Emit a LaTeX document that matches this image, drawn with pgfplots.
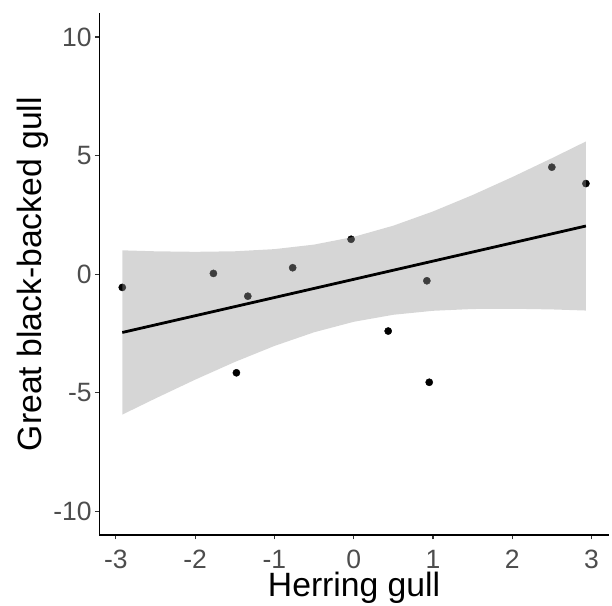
\documentclass[border=0pt]{standalone}
\usepackage{pgfplots}
\pgfplotsset{compat=1.18}
\usepackage{fontspec}
\setmainfont{Liberation Sans}
\definecolor{ticklab}{HTML}{4D4D4D}
\definecolor{tickcol}{HTML}{333333}
\definecolor{bandcol}{HTML}{999999}
\begin{document}
\begin{tikzpicture}
\begin{axis}[
  scale only axis,
  width=509.6pt, height=521.7pt,
  xmin=-3.21, xmax=3.22, ymin=-11, ymax=11,
  axis lines=left,
  axis line style={-, line width=1.1pt, black},
  xtick={-3,-2,-1,0,1,2,3},
  ytick={-10,-5,0,5,10},
  tick align=outside,
  major tick length=4.5pt,
  every tick/.style={tickcol, line width=1.1pt},
  /pgf/number format/assume math mode=true,
  tick label style={font=\fontsize{26.5}{26.5}\selectfont, text=ticklab},
  xticklabel style={anchor=base, inner sep=0pt, yshift=-29pt},
  yticklabel style={anchor=east, inner sep=0pt, xshift=-3pt},
  xlabel={Herring gull},
  ylabel={Great black-backed gull},
  label style={font=\fontsize{33.7}{33.7}\selectfont},
  xlabel style={at={([yshift=-61.7pt]axis description cs:0.5,0)}, anchor=base, inner sep=0pt},
  ylabel style={at={([xshift=-57.3pt]axis description cs:0,0.5)}, anchor=base, inner sep=0pt},
  clip=false,
  clip marker paths=true,
]
\coordinate (SW) at (rel axis cs:0,0);
\coordinate (NE) at (rel axis cs:1,1);
% points (drawn first, the band lies over them)
\addplot[only marks, mark=*, mark size=3.6pt, mark options={fill=black, draw=none}] coordinates {
(-2.92,-0.56) (-1.77,0.03) (-1.336,-0.93) (-0.77,0.27) (-1.48,-4.16)
(0.435,-2.40) (0.923,-0.28) (0.953,-4.56) (-0.033,1.47) (2.50,4.51) (2.93,3.82)
};
% confidence band: upper edge left to right, lower edge right to left
\addplot[fill=bandcol, fill opacity=0.4, draw=none] coordinates {
(-2.92,1.004) (-2.5,0.963) (-2,0.941) (-1.5,0.964) (-1,1.055) (-0.5,1.246) (0,1.572)
(0.5,2.044) (1,2.643) (1.5,3.336) (2,4.092) (2.5,4.888) (2.93,5.595)
(2.93,-1.535) (2.5,-1.488) (2,-1.460) (1.5,-1.471) (1,-1.546) (0.5,-1.714) (0,-2.010)
(-0.5,-2.452) (-1,-3.028) (-1.5,-3.704) (-2,-4.449) (-2.5,-5.239) (-2.92,-5.924)
} -- cycle;
% fitted line
\addplot[black, line width=2.8pt] coordinates {(-2.92,-2.460) (2.93,2.030)};
\end{axis}
\pgfresetboundingbox
\useasboundingbox ([shift={(-99.3pt,-71pt)}]SW) rectangle ([shift={(3.1pt,13.3pt)}]NE);
\end{tikzpicture}
\end{document}
